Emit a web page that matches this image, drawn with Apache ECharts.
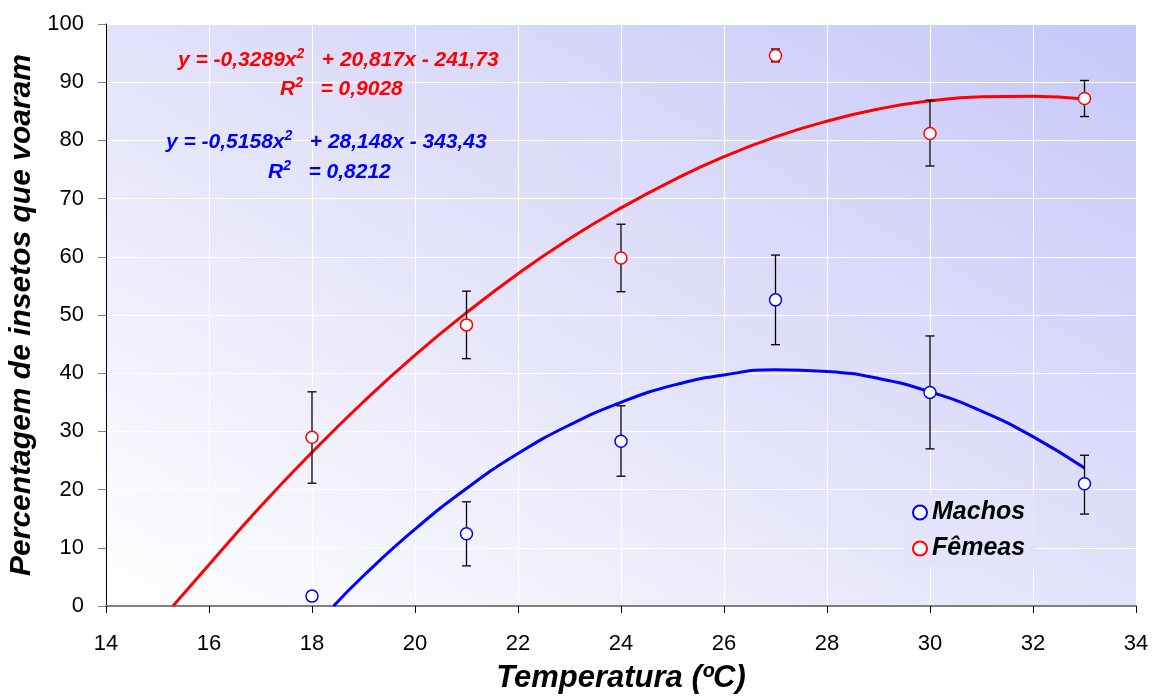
<!DOCTYPE html>
<html>
<head>
<meta charset="utf-8">
<script src="https://cdn.jsdelivr.net/npm/echarts@6/dist/echarts.min.js"></script>
<style>
  html, body { margin: 0; padding: 0; background: #fff; }
  #chart { width: 1159px; height: 696px; }
</style>
</head>
<body>
<div id="chart"></div>
<script>
// temperatures of the observations
const temps = [18, 21, 24, 27, 30, 33];

// Machos (blue): mean, lower and upper end of the error bar
const machosMean = [1.7, 12.4, 28.3, 52.6, 36.7, 21.0];
const machosLow = [1.7, 6.9, 22.3, 44.9, 27.0, 15.8];
const machosHigh = [1.7, 17.9, 34.4, 60.3, 46.4, 25.9];

// Fêmeas (red)
const femeasMean = [29.0, 48.3, 59.8, 94.6, 81.2, 87.2];
const femeasLow = [21.1, 42.5, 54.0, 93.5, 75.6, 84.1];
const femeasHigh = [36.8, 54.1, 65.6, 95.7, 86.9, 90.3];

// trend curves
const femeasCurveX = [15.3, 16, 17, 18, 19, 20, 21, 22, 23, 24, 25, 26, 27, 28, 29, 30, 31, 32, 33];
const femeasCurveY = [0, 7.1, 17.1, 26.4, 35.1, 43.1, 50.4, 57.1, 63.1, 68.4, 73.1, 77.2, 80.6, 83.3, 85.4, 86.8, 87.5, 87.6, 87.1];
const machosCurveX = [18.42, 19, 20, 21, 22, 23, 24, 25, 26, 27, 28, 29, 30, 31, 32, 33];
const machosCurveY = [0, 5.2, 13.2, 20.2, 26.2, 31.1, 35.0, 37.9, 39.7, 40.6, 40.3, 39.1, 36.8, 33.5, 29.1, 23.7];

const FONT = "'Liberation Sans', Arial, sans-serif";

function zip(a, b) {
  let out = [];
  for (let i = 0; i < a.length; i++) out.push([a[i], b[i]]);
  return out;
}
function bars(x, lo, hi) {
  let out = [];
  for (let i = 0; i < x.length; i++) out.push([x[i], lo[i], hi[i]]);
  return out;
}

function errorBar(params, api) {
  const x = api.value(0);
  const top = api.coord([x, api.value(2)]);
  const bot = api.coord([x, api.value(1)]);
  const hw = 4.5;
  const st = { stroke: '#000', lineWidth: 1.3 };
  return {
    type: 'group',
    children: [
      { type: 'line', shape: { x1: top[0], y1: top[1], x2: bot[0], y2: bot[1] }, style: st },
      { type: 'line', shape: { x1: top[0] - hw, y1: top[1], x2: top[0] + hw, y2: top[1] }, style: st },
      { type: 'line', shape: { x1: bot[0] - hw, y1: bot[1], x2: bot[0] + hw, y2: bot[1] }, style: st }
    ]
  };
}

function eqRich(color) {
  return {
    a: { fontFamily: FONT, fontSize: 21, fontWeight: 'bold', fontStyle: 'italic', fill: color, lineHeight: 26 },
    s: { fontFamily: FONT, fontSize: 14, fontWeight: 'bold', fontStyle: 'italic', fill: color, lineHeight: 14, verticalAlign: 'top', padding: [0, 0, 6, 0] }
  };
}

const chart = echarts.init(document.getElementById('chart'));
const option = {
  animation: false,
  grid: {
    left: 106, top: 24, width: 1030, height: 582,
    outerBoundsMode: 'none',
    show: true, borderWidth: 0,
    backgroundColor: {
      type: 'linear', x: 0, y: 1, x2: 0.483, y2: -0.516,
      colorStops: [
        { offset: 0, color: '#ffffff' },
        { offset: 0.5, color: '#e2e2fa' },
        { offset: 1, color: '#c8c8fa' }
      ]
    }
  },
  xAxis: {
    type: 'value', min: 14, max: 34, interval: 2,
    name: 'Temperatura (ºC)', nameLocation: 'middle', nameGap: 57,
    nameTextStyle: { fontFamily: FONT, fontSize: 31, fontWeight: 'bold', fontStyle: 'italic', color: '#000' },
    axisLine: { show: true, onZero: false, lineStyle: { color: '#808080', width: 2 } },
    axisTick: { show: true, length: 7, lineStyle: { color: '#000' } },
    axisLabel: { fontFamily: FONT, fontSize: 22, color: '#000', margin: 27 },
    splitLine: { show: true, lineStyle: { color: '#ffffff', width: 1 } }
  },
  yAxis: {
    type: 'value', min: 0, max: 100, interval: 10,
    name: 'Percentagem de insetos que voaram', nameLocation: 'middle', nameGap: 52,
    nameTextStyle: { fontFamily: FONT, fontSize: 30, fontWeight: 'bold', fontStyle: 'italic', color: '#000' },
    axisLine: { show: true, lineStyle: { color: '#000', width: 1 } },
    axisTick: { show: true, length: 8, lineStyle: { color: '#808080' } },
    axisLabel: { fontFamily: FONT, fontSize: 22, color: '#000', margin: 22 },
    splitLine: { show: true, lineStyle: { color: '#ffffff', width: 1 } }
  },
  legend: {
    orient: 'vertical', left: 904, top: 494, itemGap: 11,
    data: ['Machos', 'Fêmeas'],
    icon: 'circle', itemWidth: 14, itemHeight: 14,
    backgroundColor: '#e3e3fa',
    padding: [6, 10, 6, 8],
    textStyle: { fontFamily: FONT, fontSize: 25, fontWeight: 'bold', fontStyle: 'italic', color: '#000' }
  },
  graphic: [
    { type: 'text', left: 178, top: 47, z: 100, style: { rich: eqRich('#ff0000'), text: '{a|y = -0,3289x}{s|2}{a|   + 20,817x - 241,73}' } },
    { type: 'text', left: 280, top: 76, z: 100, style: { rich: eqRich('#ff0000'), text: '{a|R}{s|2}{a|   = 0,9028}' } },
    { type: 'text', left: 166, top: 129, z: 100, style: { rich: eqRich('#0000ff'), text: '{a|y = -0,5158x}{s|2}{a|   + 28,148x - 343,43}' } },
    { type: 'text', left: 268, top: 159, z: 100, style: { rich: eqRich('#0000ff'), text: '{a|R}{s|2}{a|   = 0,8212}' } }
  ],
  series: [
    {
      name: 'curva Fêmeas', type: 'line', data: zip(femeasCurveX, femeasCurveY),
      smooth: true, showSymbol: false, z: 3,
      lineStyle: { color: '#ff0000', width: 3 }
    },
    {
      name: 'curva Machos', type: 'line', data: zip(machosCurveX, machosCurveY),
      smooth: true, showSymbol: false, z: 3,
      lineStyle: { color: '#0000ff', width: 3 }
    },
    { name: 'erro Machos', type: 'custom', renderItem: errorBar, data: bars(temps, machosLow, machosHigh), z: 4 },
    { name: 'erro Fêmeas', type: 'custom', renderItem: errorBar, data: bars(temps, femeasLow, femeasHigh), z: 4 },
    {
      name: 'Machos', type: 'scatter', data: zip(temps, machosMean),
      symbol: 'circle', symbolSize: 12, z: 5,
      itemStyle: { color: '#ffffff', borderColor: '#0000ff', borderWidth: 1.5, opacity: 1 }
    },
    {
      name: 'Fêmeas', type: 'scatter', data: zip(temps, femeasMean),
      symbol: 'circle', symbolSize: 12, z: 5,
      itemStyle: { color: '#ffffff', borderColor: '#ff0000', borderWidth: 1.5, opacity: 1 }
    }
  ]
};
chart.setOption(option);
</script>
</body>
</html>
